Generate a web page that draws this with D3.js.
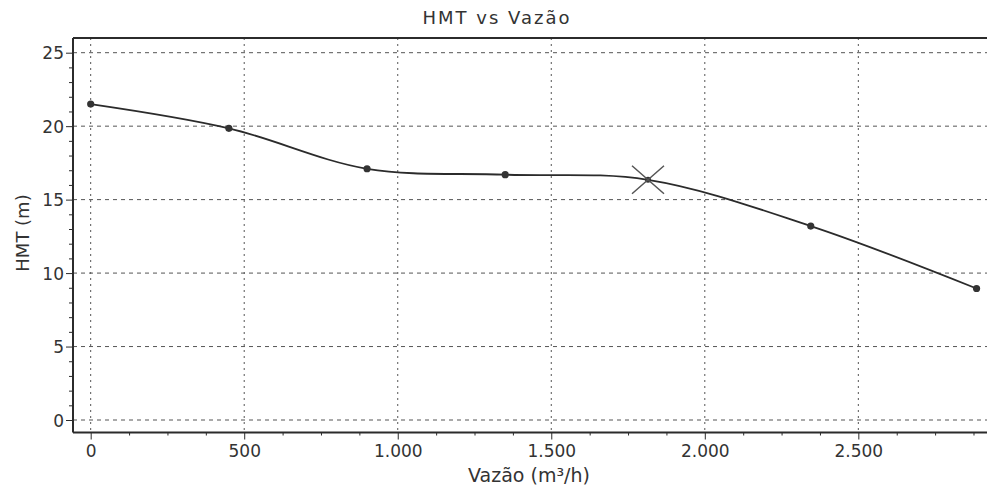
<!DOCTYPE html>
<html>
<head>
<meta charset="utf-8">
<script src="https://cdn.jsdelivr.net/npm/d3@7"></script>
<style>
  html, body { margin: 0; padding: 0; background: #fff; }
  svg { display: block; }
  text { font-family: "DejaVu Sans", Verdana, sans-serif; fill: #333; }
</style>
</head>
<body>
<svg id="chart" width="987" height="491"></svg>
<script>
// Pump curve: head (HMT, m) against flow (Vazão, m³/h)
const flowValues = [0, 450, 900, 1350, 1815, 2345, 2885];
const headValues = [21.5, 19.85, 17.1, 16.7, 16.35, 13.2, 8.95];
const operatingIndex = 4;            // duty point, drawn as a cross
const xTickValues = [0, 500, 1000, 1500, 2000, 2500];
const xTickLabels = ["0", "500", "1.000", "1.500", "2.000", "2.500"];
const yTickValues = [0, 5, 10, 15, 20, 25];
const yTickLabels = ["0", "5", "10", "15", "20", "25"];
const titleText = "HMT vs Vazão";
const xAxisTitle = "Vazão (m³/h)";
const yAxisTitle = "HMT (m)";

const svg = d3.select("#chart");
const plotLeft = 73, plotRight = 987, plotTop = 38, plotBottom = 432.5;

const x = d3.scaleLinear().domain([-57.6, 2919]).range([plotLeft, plotRight]);
const y = d3.scaleLinear().domain([-0.85, 26]).range([plotBottom, plotTop]);

const ink = "#2b2b2b";
const gridInk = "#555";

// grid
const grid = svg.append("g");
grid.selectAll("line.hg").data(yTickValues).join("line")
  .attr("x1", plotLeft).attr("x2", plotRight)
  .attr("y1", d => y(d)).attr("y2", d => y(d))
  .attr("stroke", gridInk).attr("stroke-width", 1)
  .attr("stroke-dasharray", "4,4");
grid.selectAll("line.vg").data(xTickValues).join("line")
  .attr("x1", d => x(d)).attr("x2", d => x(d))
  .attr("y1", plotTop).attr("y2", plotBottom)
  .attr("stroke", gridInk).attr("stroke-width", 1)
  .attr("stroke-dasharray", "2,4");

// minor ticks
const xMinor = d3.range(0, 2900, 125).filter(v => v % 500 !== 0);
const yMinor = d3.range(0, 26, 1).filter(v => v % 5 !== 0);

const xAxis = d3.axisBottom(x)
  .tickValues(xTickValues)
  .tickFormat((d, i) => xTickLabels[i])
  .tickSize(7).tickPadding(5).tickSizeOuter(0);
const xAxisMinor = d3.axisBottom(x).tickValues(xMinor).tickFormat("").tickSize(3).tickSizeOuter(0);

const yAxis = d3.axisLeft(y)
  .tickValues(yTickValues)
  .tickFormat((d, i) => yTickLabels[i])
  .tickSize(7).tickPadding(2).tickSizeOuter(0);
const yAxisMinor = d3.axisLeft(y).tickValues(yMinor).tickFormat("").tickSize(4).tickSizeOuter(0);

const gx = svg.append("g").attr("transform", `translate(0,${plotBottom})`).call(xAxis);
svg.append("g").attr("transform", `translate(0,${plotBottom})`).call(xAxisMinor)
  .call(g => g.select(".domain").remove());
const gy = svg.append("g").attr("transform", `translate(${plotLeft},0)`).call(yAxis);
svg.append("g").attr("transform", `translate(${plotLeft},0)`).call(yAxisMinor)
  .call(g => g.select(".domain").remove());

svg.selectAll(".tick line").attr("stroke", ink);
gx.select(".domain").attr("stroke", ink).attr("stroke-width", 2)
  .attr("d", `M${plotLeft},0H${plotRight}`);
gy.select(".domain").attr("stroke", ink).attr("stroke-width", 2)
  .attr("d", `M0,${plotTop}V${plotBottom}`);
gx.selectAll("text").style("font-size", "17px").attr("fill", "#333");
gy.selectAll("text").style("font-size", "17px").attr("fill", "#333")
  .attr("dy", "0.36em");

// top border
svg.append("line")
  .attr("x1", plotLeft).attr("x2", plotRight).attr("y1", plotTop).attr("y2", plotTop)
  .attr("stroke", ink).attr("stroke-width", 2);

// curve
const pts = flowValues.map((f, i) => ({ f, h: headValues[i], i }));
const line = d3.line().x(d => x(d.f)).y(d => y(d.h)).curve(d3.curveCatmullRom.alpha(0.5));
svg.append("path").datum(pts)
  .attr("d", line).attr("fill", "none")
  .attr("stroke", ink).attr("stroke-width", 1.8);

// data markers
svg.selectAll("circle.pt").data(pts).join("circle")
  .attr("cx", d => x(d.f)).attr("cy", d => y(d.h))
  .attr("r", d => d.i === operatingIndex ? 3 : 3.6)
  .attr("fill", "#333");

// duty point cross
const op = pts[operatingIndex];
const cx = x(op.f), cy = y(op.h);
svg.append("path")
  .attr("d", `M${cx - 16},${cy - 14}L${cx + 16},${cy + 14}M${cx - 16},${cy + 14}L${cx + 16},${cy - 14}`)
  .attr("stroke", "#555").attr("stroke-width", 1.5).attr("fill", "none");

// titles
svg.append("text").attr("x", 497).attr("y", 24)
  .attr("text-anchor", "middle").style("font-size", "18px")
  .attr("letter-spacing", "2px")
  .text(titleText);
svg.append("text").attr("x", 529).attr("y", 482)
  .attr("text-anchor", "middle").style("font-size", "19px")
  .text(xAxisTitle);
svg.append("text")
  .attr("transform", "translate(29,233) rotate(-90)")
  .attr("text-anchor", "middle").style("font-size", "18px")
  .text(yAxisTitle);
</script>
</body>
</html>
